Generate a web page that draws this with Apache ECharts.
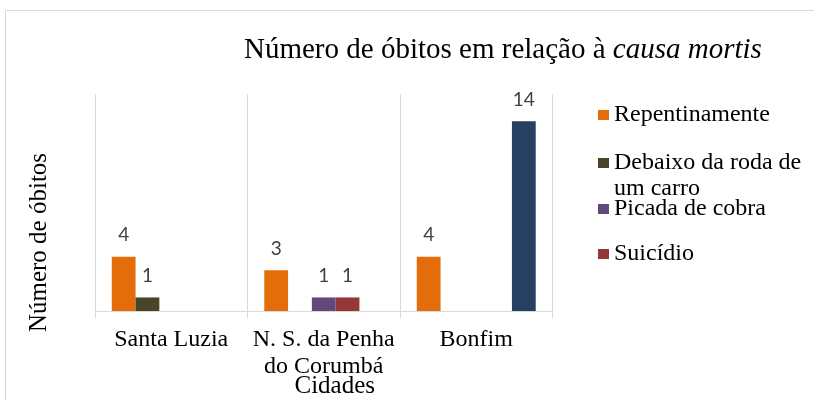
<!DOCTYPE html>
<html>
<head>
<meta charset="utf-8">
<script src="https://cdn.jsdelivr.net/npm/echarts@6/dist/echarts.min.js"></script>
<style>html,body{margin:0;padding:0;background:#fff;}#c{width:814px;height:400px;}</style>
</head>
<body>
<div id="c"></div>
<script>
const categories = ['Santa Luzia', 'N. S. da Penha\ndo Corumbá', 'Bonfim'];
const seriesNames = ['Repentinamente', 'Debaixo da roda de um carro', 'Picada de cobra', 'Suicídio', 'Série 5'];
const repentinamente = [4, 3, 4];
const debaixoRoda = [1, null, null];
const picadaCobra = [null, 1, null];
const suicidio = [null, 1, null];
const serie5 = [null, null, 14];
const colors = ['#E46C0A', '#4A4529', '#604A7B', '#953735', '#254061'];

const serif = '"Liberation Serif", "Times New Roman", serif';
const allData = [repentinamente, debaixoRoda, picadaCobra, suicidio, serie5];

const legendTops = [102, 124, 196, 241];
const legends = seriesNames.slice(0, 4).map((n, i) => ({
  data: [n],
  orient: 'vertical',
  left: 598,
  top: legendTops[i],
  padding: 0,
  itemWidth: 11,
  itemHeight: 10,
  itemGap: 0,
  icon: 'rect',
  selectedMode: false,
  formatter: (name) => name === 'Debaixo da roda de um carro' ? '\nDebaixo da roda de\num carro' : name,
  textStyle: { fontFamily: serif, fontSize: 24, color: '#000', lineHeight: 26 }
}));

const chart = echarts.init(document.getElementById('c'), null, { renderer: 'canvas' });
chart.setOption({
  animation: false,
  backgroundColor: '#fff',
  graphic: [{
    type: 'rect', shape: { x: 5.5, y: 10.5, width: 900, height: 500 },
    style: { fill: 'none', stroke: '#D9D9D9', lineWidth: 1 }, silent: true
  }],
  title: {
    text: 'Número de óbitos em relação à {i|causa mortis}',
    left: 239, top: 31,
    textStyle: {
      fontFamily: serif, fontSize: 29, fontWeight: 'normal', color: '#000',
      rich: { i: { fontFamily: serif, fontSize: 29, fontStyle: 'italic', color: '#000' } }
    }
  },
  legend: legends,
  grid: { left: 95, right: 261.5, top: 94, bottom: 89, outerBoundsMode: 'none', containLabel: false },
  xAxis: {
    type: 'category',
    data: categories,
    name: 'Cidades',
    nameLocation: 'middle',
    nameGap: 62,
    nameMoveOverlap: false,
    nameTextStyle: { fontFamily: serif, fontSize: 25, color: '#000', lineHeight: 26, padding: [0, 0, 0, 22] },
    axisLine: { show: true, lineStyle: { color: '#D9D9D9', width: 1 } },
    axisTick: { show: true, length: 7, lineStyle: { color: '#D9D9D9' } },
    splitLine: { show: true, lineStyle: { color: '#D9D9D9', width: 1 } },
    axisLabel: { interval: 0, fontFamily: serif, fontSize: 24, color: '#000', lineHeight: 27, margin: 15 }
  },
  yAxis: {
    type: 'value',
    min: 0, max: 16,
    name: 'Número de óbitos',
    nameLocation: 'middle',
    nameGap: 43,
    nameMoveOverlap: false,
    nameTextStyle: { fontFamily: serif, fontSize: 25, color: '#000', padding: [0, 80, 0, 0] },
    axisLine: { show: false }, axisTick: { show: false },
    axisLabel: { show: false }, splitLine: { show: false }
  },
  series: allData.map((d, i) => ({
    type: 'bar',
    name: seriesNames[i],
    data: d,
    barGap: 0,
    barCategoryGap: '22%',
    itemStyle: { color: colors[i] },
    label: {
      show: true, position: 'top', distance: 12,
      fontFamily: 'Lato', fontSize: 19, color: '#404040'
    }
  }))
});
</script>
</body>
</html>
